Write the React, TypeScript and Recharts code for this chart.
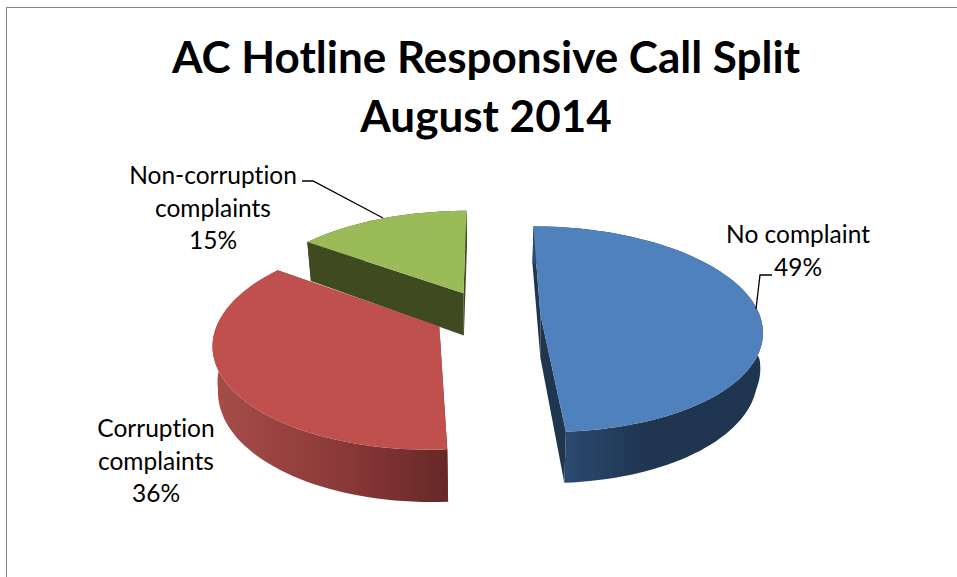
import React from 'react';
import { PieChart, Pie } from 'recharts';

// slices go clockwise, so starting at the back one gives the right paint order
const categories = ['Non-corruption complaints', 'No complaint', 'Corruption complaints'];
const shares = [15, 49, 36];
const topColors = ['#9bbb59', '#4f81bd', '#c0504d'];
const wallColors = ['#3f4a21', '#1f3550', '#7a3230'];
const rimFills = ['#3f4a21', 'url(#rimBlue)', 'url(#rimRed)'];

const titleLines = ['AC Hotline Responsive Call Split', 'August 2014'];

const labelLayout: Record<string, { x: number; y: number; lines: string[]; leader: string }> = {
  'Non-corruption complaints': {
    x: 213,
    y: 184,
    lines: ['Non-corruption', 'complaints'],
    leader: '302,181 313,181 383,218',
  },
  'No complaint': { x: 798, y: 243, lines: ['No complaint'], leader: '772,275 760,275 756,309' },
  'Corruption complaints': { x: 156, y: 437, lines: ['Corruption', 'complaints'], leader: '' },
};

const pieData = categories.map((name, i) => ({
  name,
  value: shares[i],
  fill: topColors[i],
  wall: wallColors[i],
  rim: rimFills[i],
}));

const RAD = Math.PI / 180;
const FLATTEN = 0.46; // vertical squash of the tilted disc
const PERSPECTIVE = 0.15;
const EXPLODE = 0.244;
const DEPTH = 43.5;

type Pt = [number, number];

const toPath = (pts: Pt[]) =>
  pts.map((p, i) => `${i ? 'L' : 'M'}${p[0].toFixed(1)},${p[1].toFixed(1)}`).join(' ') + ' Z';

// Sector drawn as a tilted, exploded wedge with a rim and two cut walls
const WedgeShape = (props: any) => {
  const { cx, cy, outerRadius: r, startAngle, endAngle } = props;
  const wall = props.wall ?? props.payload?.wall;
  const rim = props.rim ?? props.payload?.rim;
  const mid = ((startAngle + endAngle) / 2) * RAD;
  const ox = EXPLODE * Math.cos(mid);
  const oy = -EXPLODE * Math.sin(mid);

  const top = (ux: number, uy: number): Pt => {
    const wx = ux + ox;
    const wy = uy + oy;
    const f = 1 / (1 - PERSPECTIVE * wy);
    return [cx + wx * r * f, cy + wy * r * FLATTEN * f];
  };
  const bottom = (ux: number, uy: number): Pt => {
    const [x, y] = top(ux, uy);
    const wy = uy + oy;
    const f = 1 / (1 - PERSPECTIVE * wy);
    // the underside pulls in a little towards the front and back of the disc
    const shrink = Math.max(0.98, 1 - 0.07 * Math.abs(wy));
    return [cx + (x - cx) * shrink, y + DEPTH * f];
  };

  const steps = Math.max(2, Math.ceil(Math.abs(startAngle - endAngle) / 2));
  const units: Pt[] = [];
  for (let i = 0; i <= steps; i++) {
    const a = (startAngle + ((endAngle - startAngle) * i) / steps) * RAD;
    units.push([Math.cos(a), -Math.sin(a)]);
  }
  const first = units[0];
  const last = units[units.length - 1];

  const topArc = units.map((u) => top(u[0], u[1]));
  const bottomArc = units.map((u) => bottom(u[0], u[1]));

  return (
    <g>
      <path d={toPath([top(0, 0), top(first[0], first[1]), bottom(first[0], first[1]), bottom(0, 0)])} fill={wall} />
      <path d={toPath([top(0, 0), top(last[0], last[1]), bottom(last[0], last[1]), bottom(0, 0)])} fill={wall} />
      <path d={toPath([...topArc, ...bottomArc.reverse()])} fill={rim} />
      <path d={toPath([top(0, 0), ...topArc])} fill={props.fill} />
    </g>
  );
};

const textStyle = {
  fontFamily: 'Lato, sans-serif',
  fontSize: 24.5,
  fill: '#000',
  fontVariantLigatures: 'none',
};

const renderLabel = (props: any) => {
  const layout = labelLayout[props.name];
  const lines = [...layout.lines, `${Math.round(props.percent * 100)}%`];
  return (
    <g key={props.name}>
      {lines.map((line, i) => (
        <text key={line} x={layout.x} y={layout.y + i * 32.6} textAnchor="middle" style={textStyle}>
          {line}
        </text>
      ))}
      {layout.leader && <polyline points={layout.leader} fill="none" stroke="#000" strokeWidth={1.3} />}
    </g>
  );
};

export default function App() {
  return (
    <div style={{ position: 'absolute', left: 0, top: 0, width: 957, height: 577, overflow: 'hidden', background: '#fff' }}>
      <div
        style={{
          position: 'absolute',
          left: 6,
          top: 7,
          width: 951,
          height: 570,
          borderLeft: '1.5px solid #868686',
          borderTop: '1.5px solid #868686',
        }}
      />
      <PieChart width={957} height={577} margin={{ top: 0, right: 0, bottom: 0, left: 0 }} style={{ position: 'absolute' }}>
        <defs>
          <linearGradient id="rimBlue" gradientUnits="userSpaceOnUse" x1="566" y1="0" x2="765" y2="0">
            <stop offset="0" stopColor="#2b4a70" />
            <stop offset="0.4" stopColor="#1f3550" />
            <stop offset="1" stopColor="#1f3550" />
          </linearGradient>
          <linearGradient id="rimRed" gradientUnits="userSpaceOnUse" x1="215" y1="0" x2="448" y2="0">
            <stop offset="0" stopColor="#a64d49" />
            <stop offset="0.55" stopColor="#8a3938" />
            <stop offset="1" stopColor="#662827" />
          </linearGradient>
        </defs>
        {titleLines.map((line, i) => (
          <text
            key={line}
            x={486}
            y={73 + i * 58.5}
            textAnchor="middle"
            style={{ fontFamily: 'Lato, sans-serif', fontSize: 44, fontWeight: 700, fill: '#000', fontVariantLigatures: 'none' }}
          >
            {line}
          </text>
        ))}
        <Pie
          data={pieData}
          dataKey="value"
          nameKey="name"
          cx={487}
          cy={314.5}
          outerRadius={219}
          startAngle={144}
          endAngle={-216}
          stroke="none"
          shape={WedgeShape}
          label={renderLabel}
          labelLine={false}
          isAnimationActive={false}
        />
      </PieChart>
    </div>
  );
}
